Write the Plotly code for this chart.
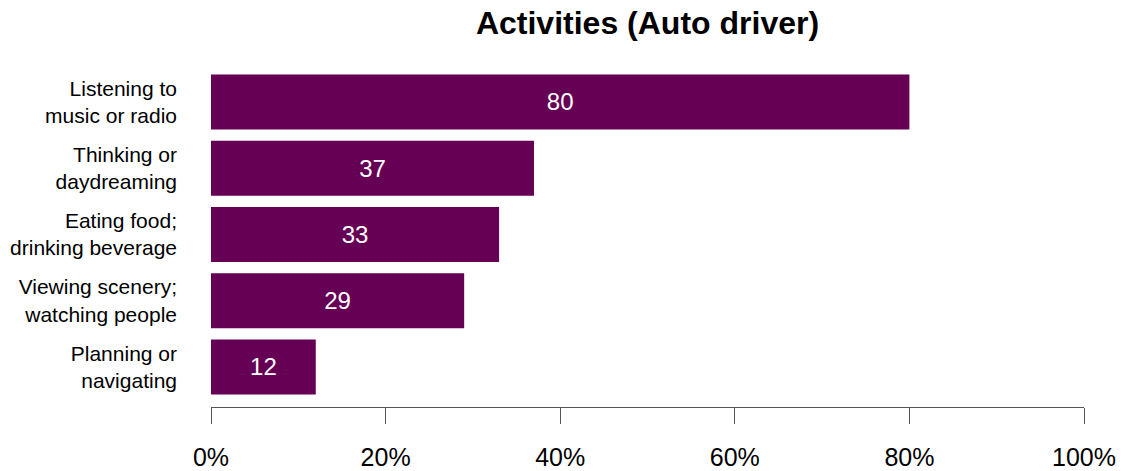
import plotly.graph_objects as go

# Share of auto drivers reporting each activity (%)
activities = [
    "Listening to<br>music or radio",
    "Thinking or<br>daydreaming",
    "Eating food;<br>drinking beverage",
    "Viewing scenery;<br>watching people",
    "Planning or<br>navigating",
]
shares = [80, 37, 33, 29, 12]
tick_values = [0, 20, 40, 60, 80, 100]
tick_labels = ["0%", "20%", "40%", "60%", "80%", "100%"]

positions = list(range(len(activities)))
font_family = "Liberation Sans, Arial, sans-serif"

fig = go.Figure(
    go.Bar(
        x=shares,
        y=positions,
        orientation="h",
        marker=dict(color="#660055", line=dict(width=0)),
        width=0.833,
        text=[str(v) for v in shares],
        textposition="inside",
        insidetextanchor="middle",
        textangle=0,
        textfont=dict(color="white", size=24, family=font_family),
        hoverinfo="skip",
    )
)

fig.update_layout(
    width=1129,
    height=471,
    margin=dict(l=211, r=45, t=69, b=64, autoexpand=False),
    paper_bgcolor="white",
    plot_bgcolor="white",
    showlegend=False,
    title=dict(
        text="<b>Activities (Auto driver)</b>",
        x=(211 + 1084) / 2 / 1129,
        xanchor="center",
        y=1 - 23 / 471,
        yanchor="middle",
        font=dict(size=32, color="black", family=font_family),
    ),
    font=dict(family=font_family, color="black"),
)

fig.update_xaxes(
    range=[0, 100],
    tickvals=tick_values,
    ticktext=tick_labels,
    showgrid=False,
    zeroline=False,
    showline=True,
    linecolor="#555555",
    linewidth=1.2,
    ticks="outside",
    ticklen=16,
    tickwidth=1.2,
    tickcolor="#555555",
    tickfont=dict(size=25, color="black"),
    ticklabelstandoff=12,
    automargin=False,
)

fig.update_yaxes(
    range=[4.604, -0.498],
    tickvals=positions,
    ticktext=activities,
    showgrid=False,
    zeroline=False,
    showline=False,
    ticks="",
    tickfont=dict(size=21, color="black"),
    ticklabelstandoff=33,
    automargin=False,
)

fig.write_html("out.html")
